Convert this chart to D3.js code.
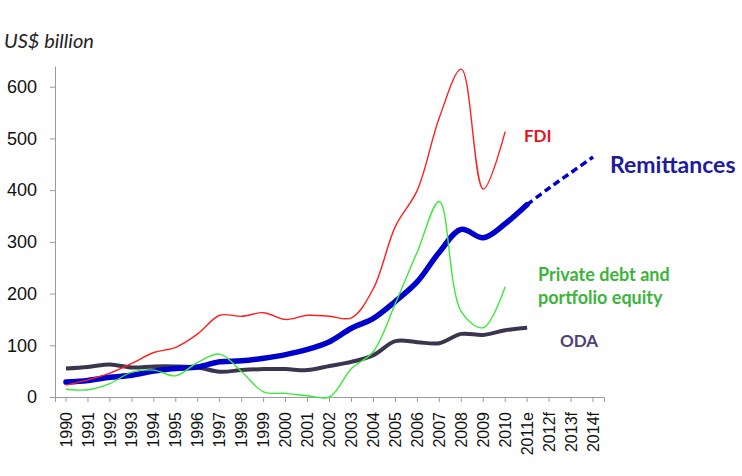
<!DOCTYPE html>
<html>
<head>
<meta charset="utf-8">
<script src="https://cdn.jsdelivr.net/npm/d3@7"></script>
<style>
  body { margin: 0; background: #fff; }
  svg { display: block; font-family: Lato, "Open Sans", sans-serif; }
</style>
</head>
<body>
<div id="chart"></div>
<script>
const years = ["1990","1991","1992","1993","1994","1995","1996","1997","1998","1999",
  "2000","2001","2002","2003","2004","2005","2006","2007","2008","2009","2010",
  "2011e","2012f","2013f","2014f"]

// US$ billion
const remittances = [29, 32, 38, 42, 50, 55, 58, 68, 70, 75, 82, 92, 107, 133, 152, 185, 223, 280, 324, 308, 335, 372]
const remittancesForecast = [372, 404, 434, 464]   // 2011e .. 2014f
const fdi = [23, 33, 46, 65, 86, 96, 122, 158, 156, 163, 150, 158, 156, 153, 210, 330, 400, 540, 634, 402, 513]
const privateDebt = [15, 14, 26, 48, 52, 41, 67, 83, 49, 10, 7, 2.5, 0, 55, 88, 181, 281, 378, 165, 134, 213]
const oda = [55, 58, 63, 57, 59, 59, 57, 49, 52, 54, 54, 52, 60, 68, 81, 108, 106, 104, 122, 120, 129, 134]

const yTicks = [0, 100, 200, 300, 400, 500, 600]

drawChart("#chart")

function drawChart(id){
    const canvas = {width: 742, height: 476, left: 55, right: 604, top: 66, bottom: 397}

    const svg = d3.select(id).append("svg")
        .attr("width", canvas.width).attr("height", canvas.height)

    const x = d3.scaleBand().domain(years).range([canvas.left, canvas.right]).paddingInner(0)
    const y = d3.scaleLinear().domain([0, 640]).range([canvas.bottom, canvas.top])
    const cx = d => x(d) + x.bandwidth() / 2

    // axes
    const gy = svg.append("g").attr("transform", `translate(${canvas.left},0)`)
        .call(d3.axisLeft(y).tickValues(yTicks).tickSize(5).tickSizeOuter(0).tickPadding(13))
    gy.selectAll("text").style("font-size", "18px").attr("fill", "#111")

    const gx = svg.append("g").attr("transform", `translate(0,${canvas.bottom})`)
        .call(d3.axisBottom(x).tickSize(5).tickSizeOuter(5))
    gx.selectAll("text")
        .attr("transform", "rotate(-90)")
        .attr("x", -15).attr("y", 0).attr("dy", "0.35em")
        .style("text-anchor", "end").style("font-size", "16px").attr("fill", "#111")

    svg.selectAll(".domain, .tick line").attr("stroke", "#9a9a9a")

    // lines
    const line = (xs, vals) => d3.line()
        .x((d, i) => cx(xs[i])).y(d => y(d))
        .curve(d3.curveCatmullRom.alpha(0.5))(vals)

    svg.append("path").attr("d", line(years, oda))
        .attr("fill", "none").attr("stroke", "#3b3550").attr("stroke-width", 4)

    svg.append("path").attr("d", line(years, remittances))
        .attr("fill", "none").attr("stroke", "#0000cc").attr("stroke-width", 5.5)
        .attr("stroke-linecap", "round")

    svg.append("path").attr("d", line(years.slice(21), remittancesForecast))
        .attr("fill", "none").attr("stroke", "#0000cc").attr("stroke-width", 3.5)
        .attr("stroke-dasharray", "7,4")

    svg.append("path").attr("d", line(years, fdi))
        .attr("fill", "none").attr("stroke", "#ff1f1f").attr("stroke-width", 1.4)

    svg.append("path").attr("d", line(years, privateDebt))
        .attr("fill", "none").attr("stroke", "#3ce83c").attr("stroke-width", 1.4)

    // titles and labels
    svg.append("text").attr("x", 4).attr("y", 48)
        .style("font-size", "20px").style("font-style", "italic").attr("fill", "#222")
        .text("US$ billion")

    const label = (tx, ty, size, color, txt) => svg.append("text")
        .attr("x", tx).attr("y", ty).style("font-size", size).style("font-weight", "bold")
        .attr("fill", color).text(txt)

    label(524, 142, "17px", "#e8141c", "FDI")
    label(610, 173, "23px", "#1c1c9c", "Remittances")
    label(538, 281, "18px", "#3cb43c", "Private debt and")
    label(538, 304, "18px", "#3cb43c", "portfolio equity")
    label(560, 347, "17px", "#4c4272", "ODA")
}
</script>
</body>
</html>
